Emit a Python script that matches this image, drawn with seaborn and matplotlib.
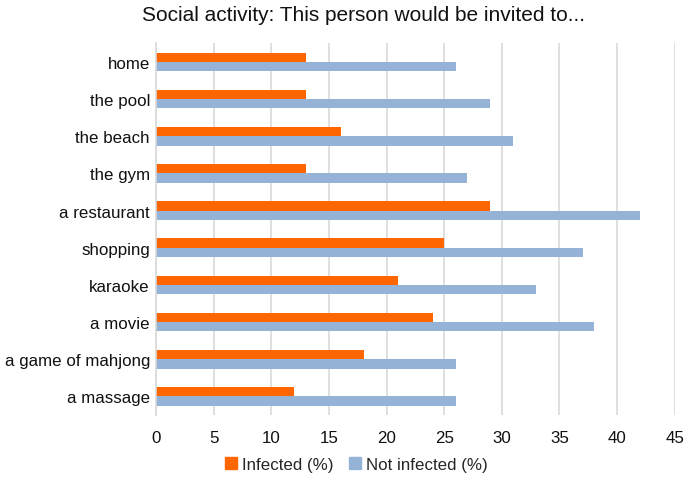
import pandas as pd
import seaborn as sns
import matplotlib.pyplot as plt

activities = ["home", "the pool", "the beach", "the gym", "a restaurant",
              "shopping", "karaoke", "a movie", "a game of mahjong", "a massage"]
infected = [13, 13, 16, 13, 29, 25, 21, 24, 18, 12]
not_infected = [26, 29, 31, 27, 42, 37, 33, 38, 26, 26]
groups = ["Infected (%)", "Not infected (%)"]
colors = ["#FF6600", "#95B3D7"]

df = pd.DataFrame({
    "activity": activities * 2,
    "value": infected + not_infected,
    "group": [groups[0]] * len(activities) + [groups[1]] * len(activities),
})

sns.set_theme(style="white")
plt.rcParams["font.family"] = ["Liberation Sans", "DejaVu Sans"]

fig = plt.figure(figsize=(6.85, 4.81), dpi=100)
ax = fig.add_axes([0.228, 0.135, 0.757, 0.773])

sns.barplot(data=df, y="activity", x="value", hue="group", order=activities,
            hue_order=groups, palette=colors, orient="h", width=0.5,
            saturation=1, linewidth=0, ax=ax, legend=False)

ax.set_xlim(0, 45)
ax.set_xticks(range(0, 46, 5))
ax.xaxis.grid(True, color="#D9D9D9", linewidth=1.2)
ax.set_axisbelow(True)
for s in ["top", "right", "bottom"]:
    ax.spines[s].set_visible(False)
ax.spines["left"].set_color("#D9D9D9")
ax.spines["left"].set_linewidth(1.2)
ax.tick_params(axis="both", length=0, labelsize=12.2, colors="#111111")
ax.tick_params(axis="x", pad=11)
ax.tick_params(axis="y", pad=4.5)
ax.set_xlabel("")
ax.set_ylabel("")

fig.suptitle("Social activity: This person would be invited to...",
             fontsize=15, y=0.988, x=0.531, color="#111111")

handles = [plt.Rectangle((0, 0), 1, 1, color=c) for c in colors]
fig.legend(handles, groups, loc="center", bbox_to_anchor=(0.52, 0.033),
           ncol=2, frameon=False, fontsize=12.2, handlelength=0.7,
           handleheight=0.7, handletextpad=0.3, columnspacing=0.9)

fig.savefig("out.png", dpi=100)
